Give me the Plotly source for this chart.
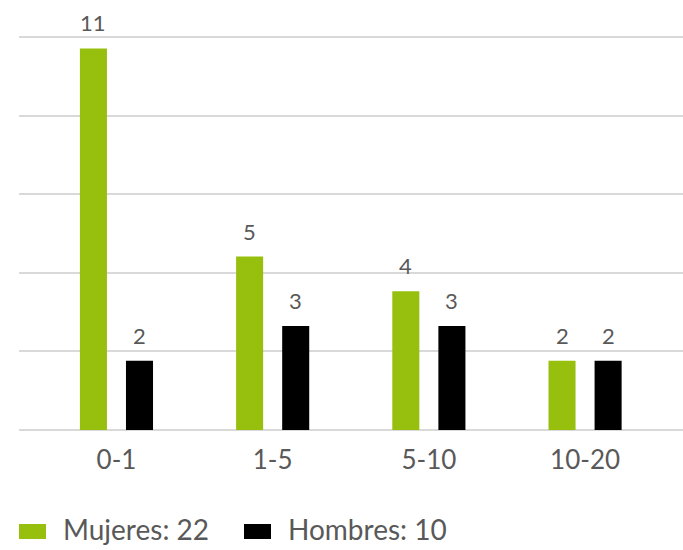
import plotly.graph_objects as go

categories = ["0-1", "1-5", "5-10", "10-20"]
mujeres = [11, 5, 4, 2]
hombres = [2, 3, 3, 2]
series_names = ["Mujeres", "Hombres"]
colors = ["#97BF0D", "#000000"]

TEXT = "#595959"
FONT = "Lato"

W, H = 683, 550
ML, MR, MT, MB = 19, 0, 35, 120
PW, PH = W - ML - MR, H - MT - MB


def px(x):
    return (x - ML) / PW


def py(y):
    return (H - MB - y) / PH


fig = go.Figure()
for name, vals, col in zip(series_names, [mujeres, hombres], colors):
    fig.add_trace(go.Bar(
        x=categories, y=vals, name=name, marker=dict(color=col, line=dict(width=0)),
        showlegend=False, hoverinfo="x+y",
    ))

# value labels above bars
offsets = [-23, 23]
for vals, dx in zip([mujeres, hombres], offsets):
    for c, v in zip(categories, vals):
        fig.add_annotation(x=c, y=v, text=str(v), showarrow=False, xshift=dx,
                           yanchor="bottom", yshift=10,
                           font=dict(family=FONT, size=22, color=TEXT))

# manual legend
leg_x = [19, 244]
for (name, vals, col), lx in zip(zip(series_names, [mujeres, hombres], colors), leg_x):
    fig.add_shape(type="rect", xref="paper", yref="paper",
                  x0=px(lx), x1=px(lx + 27), y0=py(539), y1=py(524),
                  fillcolor=col, line=dict(width=0))
    fig.add_annotation(xref="paper", yref="paper", x=px(lx + 42), y=py(529),
                       xanchor="left", yanchor="middle", showarrow=False,
                       text=f"{name}: {sum(vals)}",
                       font=dict(family=FONT, size=28, color=TEXT))

D = 11.32 / 5
fig.update_layout(
    width=W, height=H,
    margin=dict(l=ML, r=MR, t=MT, b=MB, autoexpand=False),
    paper_bgcolor="white", plot_bgcolor="white",
    barmode="group", bargap=0.41, bargroupgap=0.413,
    font=dict(family=FONT, color=TEXT),
    showlegend=False,
)
fig.update_xaxes(range=[-0.624, 3.627], showgrid=False, showline=False, zeroline=False,
                 tickfont=dict(family=FONT, size=26, color=TEXT), ticklabelstandoff=12)
fig.update_yaxes(range=[0, 5 * D * 1.006], dtick=D, tick0=0, showticklabels=False,
                 showgrid=True, gridcolor="#D9D9D9", gridwidth=1.5,
                 zeroline=True, zerolinecolor="#D9D9D9", zerolinewidth=1.5, showline=False)

fig.write_html("out.html", config={"displayModeBar": False},
               post_script="document.body.style.margin='0';document.body.style.overflow='hidden';")
